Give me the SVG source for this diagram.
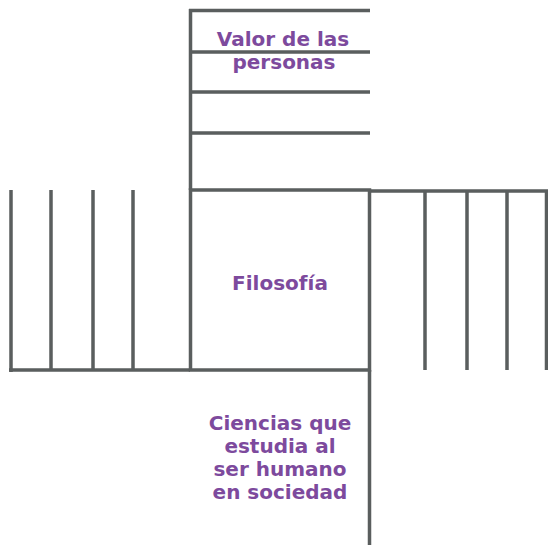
<svg xmlns="http://www.w3.org/2000/svg" width="548" height="545" viewBox="0 0 548 545">
  <style>
    .ln { stroke: #5a5e5e; stroke-width: 3.5; fill: none; stroke-linecap: butt; }
    .t { font-family: "DejaVu Sans", "Liberation Sans", sans-serif; font-weight: 700; font-size: 20px; fill: #7d4a9d; text-anchor: middle; }
  </style>
  <rect width="548" height="545" fill="#ffffff"/>
  <g id="top">
    <path class="ln" d="M190.5 9 V190 M189 10.5 H370 M190 52 H370 M190 92 H370 M190 133 H370"/>
    <text class="t" x="283" y="46">Valor de las</text>
    <text class="t" x="284" y="69">personas</text>
  </g>
  <g id="left">
    <path class="ln" d="M11 190 V372 M51 190 V370 M93 190 V370 M133 190 V370 M9 370 H190"/>
  </g>
  <g id="right">
    <path class="ln" d="M370 191 H548 M425 191 V370 M467 191 V370 M507 191 V370 M546.5 191 V370"/>
  </g>
  <g id="bottom">
    <path class="ln" d="M369.5 370 V545"/>
    <text class="t" x="280" y="430">Ciencias que</text>
    <text class="t" x="280" y="453">estudia al</text>
    <text class="t" x="280" y="476">ser humano</text>
    <text class="t" x="280" y="499">en sociedad</text>
  </g>
  <g id="center">
    <rect class="ln" x="190.5" y="190" width="179" height="180"/>
    <text class="t" x="280" y="290">Filosofía</text>
  </g>
</svg>
